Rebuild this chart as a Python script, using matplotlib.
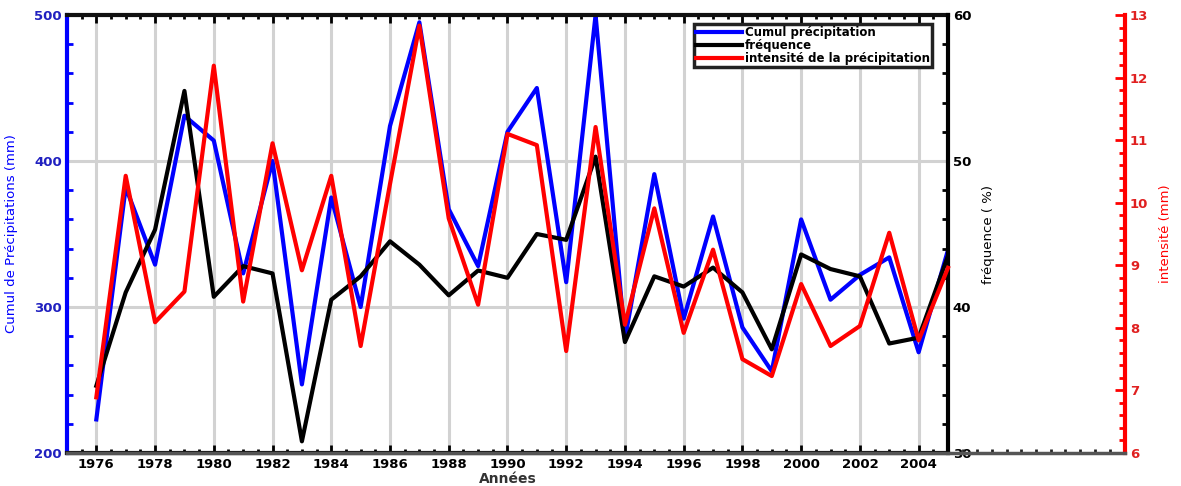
import matplotlib.pyplot as plt
import numpy as np
from matplotlib.ticker import MultipleLocator, FixedLocator, NullLocator

years = np.arange(1976, 2006)
cumul = [223, 382, 329, 431, 414, 323, 400, 247, 375, 300, 424, 495, 367, 328, 420,
         450, 317, 500, 278, 391, 292, 362, 286, 256, 360, 305, 322, 334, 269, 339]
freq = [34.6, 41.0, 45.3, 54.8, 40.7, 42.8, 42.3, 30.8, 40.5, 42.1, 44.5, 42.9, 40.8, 42.5, 42.0,
        45.0, 44.6, 50.3, 37.6, 42.1, 41.4, 42.7, 41.0, 37.1, 43.6, 42.6, 42.1, 37.5, 37.9, 43.5]
intens = [6.89, 10.43, 8.09, 8.58, 12.19, 8.42, 10.95, 8.92, 10.43, 7.71, 10.3, 12.83, 9.75, 8.37, 11.1,
          10.92, 7.63, 11.21, 8.05, 9.91, 7.92, 9.25, 7.5, 7.23, 8.7, 7.71, 8.03, 9.52, 7.8, 8.96]

plt.rcParams['font.family'] = 'DejaVu Sans'
fs_tick = 9.5
lw = 3.0

fig = plt.figure(figsize=(11.81, 4.86), dpi=100)
left, bottom, width, height = 0.0567, 0.0679, 0.746, 0.9012
red_x = 0.9526

ax1 = fig.add_axes([left, bottom, width, height])
ax2 = ax1.twinx()
ax3 = fig.add_axes([left, bottom, red_x - left, height])
ax3.patch.set_visible(False)

# main axis (cumul)
ax1.plot(years, cumul, color='#0000ff', lw=lw, label='Cumul précipitation')
ax1.set_xlim(1975, 2005)
ax1.set_ylim(200, 500)
ax1.set_xticks(np.arange(1976, 2005, 2))
ax1.xaxis.set_minor_locator(MultipleLocator(0.5))
ax1.set_yticks([200, 300, 400, 500])
ax1.yaxis.set_minor_locator(MultipleLocator(20))
ax1.grid(True, which='major', color='#d2d2d2', lw=2.2)
ax1.tick_params(axis='x', which='both', direction='in', top=True, bottom=True,
                width=2, labelsize=fs_tick, color='black')
ax1.tick_params(axis='x', which='major', length=6)
ax1.tick_params(axis='x', which='minor', length=3)
ax1.tick_params(axis='y', which='both', direction='in', colors='#0000ff', width=2,
                labelsize=fs_tick)
ax1.tick_params(axis='y', which='major', length=0)
ax1.tick_params(axis='y', which='minor', length=4)
for t in ax1.get_xticklabels() + ax1.get_yticklabels():
    t.set_fontweight('bold')
for t in ax1.get_yticklabels():
    t.set_color('#2020c0')
ax1.set_xlabel('Années', fontsize=10, fontweight='bold', color='#333333', labelpad=1)
ax1.set_ylabel('Cumul de Précipitations (mm)', fontsize=9.5, color='#0000ff', labelpad=12)
ax1.spines['left'].set_color('#0000ff')
ax1.spines['left'].set_linewidth(3)
for s in ['top', 'bottom']:
    ax1.spines[s].set_linewidth(3)
    ax1.spines[s].set_color('#111111')

# frequency axis
ax2.plot(years, freq, color='black', lw=lw, label='fréquence')
ax2.set_ylim(30, 60)
ax2.set_yticks([30, 40, 50, 60])
ax2.yaxis.set_minor_locator(MultipleLocator(2))
ax2.tick_params(axis='y', which='both', direction='in', width=2, labelsize=fs_tick)
ax2.tick_params(axis='y', which='major', length=0)
ax2.tick_params(axis='y', which='minor', length=4)
for t in ax2.get_yticklabels():
    t.set_fontweight('bold')
ax2.set_ylabel('fréquence ( %)', fontsize=9.5, labelpad=8)
for s in ['left', 'top', 'bottom']:
    ax2.spines[s].set_visible(False)
ax2.spines['right'].set_linewidth(3)

# intensity axis, with its own x scale running out to the red spine
x3_max = 1975 + (red_x - left) / width * 30
ax3.plot(years, intens, color='#ff0000', lw=lw, label='intensité de la précipitation')
ax3.set_xlim(1975, x3_max)
ax3.set_ylim(6, 13)
ax3.yaxis.tick_right()
ax3.yaxis.set_label_position('right')
ax3.set_yticks(np.arange(6, 14, 1))
ax3.yaxis.set_minor_locator(MultipleLocator(0.2))
ax3.tick_params(axis='y', which='both', direction='in', colors='#ff0000', width=2,
                labelsize=fs_tick)
ax3.tick_params(axis='y', which='major', length=7)
ax3.tick_params(axis='y', which='minor', length=4)
for t in ax3.get_yticklabels():
    t.set_fontweight('bold')
    t.set_color('#e02020')
ax3.set_ylabel('intensité (mm)', fontsize=9.5, color='#ff0000', labelpad=8)
ax3.xaxis.set_major_locator(NullLocator())
ax3.xaxis.set_minor_locator(FixedLocator(np.arange(2005.5, x3_max - 0.2, 0.5)))
ax3.tick_params(axis='x', which='both', direction='in', length=3, width=2,
                color='#222222', top=False, bottom=True, labelbottom=False, labeltop=False)
for s in ['left', 'top']:
    ax3.spines[s].set_visible(False)
ax3.spines['bottom'].set_color('#555555')
ax3.spines['bottom'].set_linewidth(2.5)
ax3.spines['right'].set_color('#ff0000')
ax3.spines['right'].set_linewidth(3)

handles = ax1.get_lines() + ax2.get_lines() + ax3.get_lines()
leg = ax3.legend(handles=handles, loc='upper right',
                 bbox_to_anchor=(938 / 1181, 1 - 18 / 486), bbox_transform=fig.transFigure,
                 prop={'size': 8.5, 'weight': 'bold'}, handlelength=3.9, handletextpad=0.2,
                 labelspacing=-0.02, borderpad=0.2, fancybox=False, framealpha=1)
leg.get_frame().set_edgecolor('#222222')
leg.get_frame().set_linewidth(2.5)

plt.savefig('out.png', dpi=100)
plt.close()
